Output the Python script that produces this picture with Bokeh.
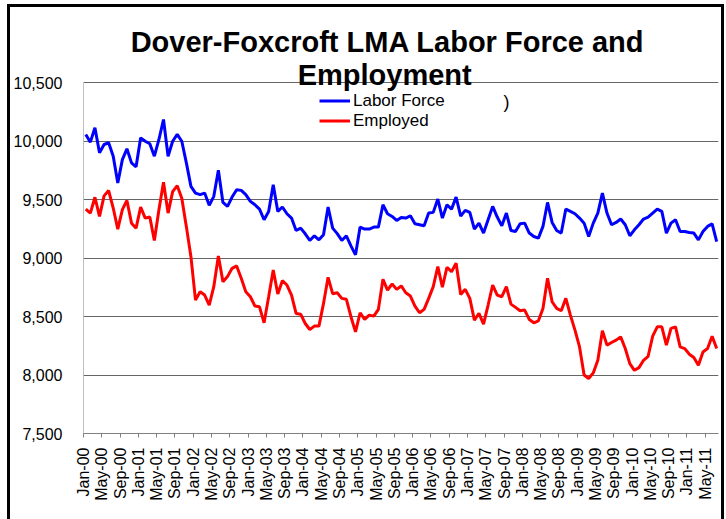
from bokeh.plotting import figure
from bokeh.models import Range1d, FixedTicker, Legend, LegendItem, Label
from bokeh.embed import file_html
from bokeh.resources import INLINE

# ---------------- data ----------------
labor_force = [
    10056, 9990, 10113, 9899, 9970, 9985, 9870, 9641, 9841, 9933, 9813, 9779,
    10027, 9998, 9976, 9870, 10013, 10184, 9870, 9998, 10056, 9998, 9813, 9612,
    9555, 9541, 9555, 9450, 9527, 9750, 9475, 9441, 9521, 9584, 9578, 9541,
    9484, 9455, 9418, 9327, 9398, 9627, 9398, 9436, 9378, 9341, 9235, 9255,
    9207, 9150, 9190, 9155, 9198, 9436, 9255, 9208, 9150, 9190, 9104, 9027,
    9264, 9247, 9247, 9264, 9264, 9455, 9378, 9355, 9321, 9347, 9341, 9361,
    9292, 9284, 9275, 9384, 9390, 9504, 9341, 9455, 9418, 9520, 9358, 9407,
    9390, 9247, 9298, 9213, 9327, 9441, 9350, 9275, 9384, 9235, 9226, 9292,
    9298, 9213, 9184, 9170, 9270, 9475, 9304, 9235, 9213, 9418, 9398, 9378,
    9341, 9298, 9184, 9298, 9384, 9555, 9384, 9284, 9304, 9333, 9284, 9190,
    9241, 9284, 9333, 9350, 9384, 9418, 9398, 9213, 9298, 9327, 9226, 9226,
    9218, 9213, 9155, 9226, 9270, 9292, 9141,
]
employed = [
    9418, 9384, 9519, 9355, 9531, 9576, 9427, 9247, 9413, 9492, 9298, 9255,
    9435, 9341, 9350, 9150, 9413, 9647, 9384, 9567, 9618, 9511, 9268, 9011,
    8640, 8711, 8683, 8598, 8755, 9018, 8798, 8841, 8912, 8932, 8827, 8712,
    8669, 8589, 8583, 8446, 8669, 8898, 8692, 8806, 8769, 8683, 8526, 8520,
    8440, 8389, 8418, 8418, 8612, 8835, 8695, 8703, 8655, 8647, 8498, 8369,
    8532, 8475, 8512, 8503, 8561, 8818, 8726, 8778, 8732, 8761, 8703, 8675,
    8589, 8532, 8561, 8655, 8755, 8926, 8750, 8921, 8883, 8955, 8688, 8732,
    8655, 8469, 8526, 8435, 8598, 8769, 8683, 8669, 8755, 8606, 8578, 8549,
    8555, 8475, 8446, 8463, 8569, 8827, 8626, 8569, 8549, 8655, 8512, 8384,
    8240, 8000, 7970, 8018, 8126, 8378, 8255, 8278, 8298, 8326, 8226, 8097,
    8040, 8063, 8126, 8160, 8332, 8412, 8412, 8255, 8398, 8412, 8240, 8226,
    8178, 8149, 8083, 8197, 8226, 8332, 8226,
]
tick_labels = [
    "Jan-00", "May-00", "Sep-00", "Jan-01", "May-01", "Sep-01", "Jan-02",
    "May-02", "Sep-02", "Jan-03", "May-03", "Sep-03", "Jan-04", "May-04",
    "Sep-04", "Jan-05", "May-05", "Sep-05", "Jan-06", "May-06", "Sep-06",
    "Jan-07", "May-07", "Sep-07", "Jan-08", "May-08", "Sep-08", "Jan-09",
    "May-09", "Sep-09", "Jan-10", "May-10", "Sep-10", "Jan-11", "May-11",
]
y_ticks = [7500, 8000, 8500, 9000, 9500, 10000, 10500]
title_lines = ["Dover-Foxcroft LMA Labor Force and", "Employment"]
series_names = ["Labor Force", "Employed"]

# ---------------- layout (page pixels) ----------------
OX, OY = 10, 7               # where the figure box starts on the page
W, H = 711, 512
FRAME_L, FRAME_R = 77, 718
FRAME_T, FRAME_B = OY, 433
PX_PER_500 = 58.5
n = len(labor_force)
px_per_month = 4.615
y_end = y_ticks[0] + (FRAME_B - FRAME_T) * 500 / PX_PER_500
x_end = (FRAME_R - FRAME_L) / px_per_month

def data_xy(px, py):
    return (px - FRAME_L) / px_per_month, y_ticks[0] + (FRAME_B - py) * 500 / PX_PER_500

FONT = "Liberation Sans"

p = figure(width=W, height=H, output_backend="svg", toolbar_location=None,
           x_range=Range1d(0, x_end), y_range=Range1d(y_ticks[0], y_end),
           min_border_left=FRAME_L - OX, min_border_right=OX + W - FRAME_R,
           min_border_top=0, min_border_bottom=OY + H - FRAME_B,
           styles={"margin-left": f"{OX}px", "margin-top": f"{OY}px",
                   "box-shadow": "-3px 0 0 0 black, 3px 0 0 0 black, 0 -3px 0 0 black, "
                                 "-3px -3px 0 0 black, 3px -3px 0 0 black"})
p.outline_line_color = None
p.background_fill_color = "white"
p.border_fill_color = "white"

xs = [i + 0.5 for i in range(n)]
r_lf = p.line(xs, labor_force, line_color="#0000FF", line_width=3)
r_em = p.line(xs, employed, line_color="#FF0000", line_width=3)

# y axis
p.yaxis.ticker = FixedTicker(ticks=y_ticks)
p.yaxis.major_label_overrides = {t: f"{t:,}" for t in y_ticks}
p.yaxis.axis_line_color = None
p.yaxis.major_tick_line_color = None
p.yaxis.minor_tick_line_color = None
p.yaxis.major_label_standoff = 15
p.yaxis.major_label_text_font = FONT
p.yaxis.major_label_text_font_size = "16px"
p.yaxis.major_label_text_color = "black"
p.segment(x0=[0], y0=[y_ticks[0]], x1=[0], y1=[y_ticks[-1]], line_color="#808080", line_width=1)

p.ygrid.grid_line_color = "#666666"
p.ygrid.grid_line_width = 1
p.xgrid.visible = False

# x axis
x_ticks = [4 * k for k in range(len(tick_labels))]
p.xaxis.ticker = FixedTicker(ticks=x_ticks)
p.xaxis.major_label_overrides = {t: lab for t, lab in zip(x_ticks, tick_labels)}
p.xaxis.major_label_orientation = 3.14159265 / 2
p.xaxis.axis_line_color = "#808080"
p.xaxis.major_tick_line_color = "#808080"
p.xaxis.major_tick_in = 0
p.xaxis.major_tick_out = 4
p.xaxis.minor_tick_line_color = None
p.xaxis.major_label_standoff = 10
p.xaxis.major_label_text_font = FONT
p.xaxis.major_label_text_font_size = "16px"
p.xaxis.major_label_text_color = "black"

# title (two lines)
for line, (cx, by) in zip(title_lines, [(384, 41), (381, 74)]):
    tx, ty = data_xy(cx, by)
    p.add_layout(Label(x=tx, y=ty, text=line, text_align="center", text_baseline="alphabetic",
                       text_font=FONT, text_font_style="bold", text_font_size="29px",
                       text_color="black"))

# stray parenthesis
tx, ty = data_xy(504, 101)
p.add_layout(Label(x=tx, y=ty, text=")", text_align="center", text_baseline="alphabetic",
                   text_font=FONT, text_font_size="18px", text_color="black"))

legend = Legend(items=[LegendItem(label=series_names[0], renderers=[r_lf]),
                       LegendItem(label=series_names[1], renderers=[r_em])],
                location=(313 - FRAME_L, FRAME_B - 130.5))
legend.background_fill_alpha = 0
legend.border_line_color = None
legend.padding = 0
legend.margin = 0
legend.spacing = 0
legend.glyph_width = 31
legend.glyph_height = 17
legend.label_height = 17
legend.label_standoff = 3
legend.label_text_font = FONT
legend.label_text_font_size = "17px"
legend.label_text_color = "black"
p.add_layout(legend)

open("out.html", "w").write(file_html(p, INLINE))
